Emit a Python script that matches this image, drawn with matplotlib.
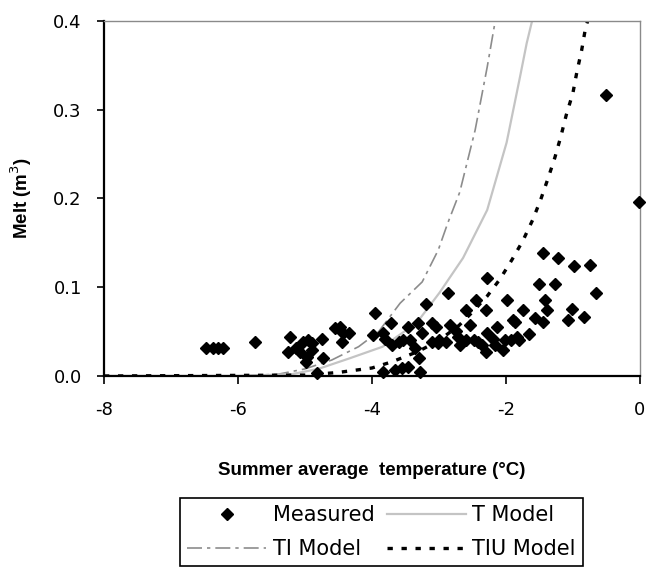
import matplotlib
matplotlib.use("Agg")
import matplotlib.pyplot as plt

plt.rcParams['font.family'] = ['DejaVu Sans']
plt.rcParams['axes.unicode_minus'] = False

# measured melt vs summer temperature
meas_t = [-6.47, -6.38, -6.30, -6.22, -5.74,
          -5.22, -5.25, -5.14, -5.07, -5.03, -4.95, -4.89, -4.97, -4.89, -4.98, -4.74, -4.73, -4.82,
          -4.55, -4.47, -4.43, -4.35, -4.44,
          -3.95, -3.98, -3.71, -3.83, -3.70, -3.80, -3.53, -3.46, -3.32, -3.25, -3.43, -3.35, -3.30,
          -3.20, -3.10, -3.05, -3.10, -3.01, -3.60, -3.00, -2.90,
          -2.87, -2.83, -2.75, -2.71, -2.68, -2.60, -2.53, -2.45, -2.48, -2.41, -2.60, -2.35,
          -2.30, -2.28, -2.28, -2.30, -2.20, -2.13, -2.16, -2.04, -1.98, -1.89, -1.93, -1.83,
          -3.83, -3.65, -3.55, -3.46, -3.28,
          -1.45, -1.23, -0.99, -0.75, -1.51, -1.27, -0.66, -1.41, -1.75, -1.38, -1.02,
          -1.87, -1.56, -1.45, -1.08, -0.84, -1.66, -1.81, -2.01,
          -0.51, -0.02]
meas_melt = [0.032, 0.032, 0.032, 0.032, 0.038,
             0.044, 0.027, 0.032, 0.027, 0.038, 0.040, 0.037, 0.021, 0.029, 0.016, 0.042, 0.020, 0.003,
             0.054, 0.055, 0.048, 0.048, 0.038,
             0.071, 0.046, 0.060, 0.049, 0.035, 0.042, 0.040, 0.055, 0.060, 0.049, 0.040, 0.031, 0.020,
             0.081, 0.060, 0.055, 0.038, 0.037, 0.038, 0.040, 0.038,
             0.093, 0.057, 0.051, 0.044, 0.035, 0.074, 0.057, 0.086, 0.040, 0.038, 0.040, 0.035,
             0.074, 0.110, 0.049, 0.027, 0.042, 0.055, 0.035, 0.029, 0.086, 0.063, 0.040, 0.044,
             0.004, 0.007, 0.009, 0.010, 0.004,
             0.139, 0.133, 0.124, 0.125, 0.104, 0.104, 0.093, 0.086, 0.074, 0.074, 0.075,
             0.061, 0.065, 0.061, 0.063, 0.067, 0.047, 0.041, 0.040,
             0.317, 0.196]

# model curves
t_model_t = [-8.0, -6.0, -5.2, -4.8, -4.33, -3.84, -3.33, -2.99, -2.64, -2.28, -1.99, -1.79, -1.69, -1.61]
t_model_melt = [0.0, 0.0, 0.002, 0.008, 0.020, 0.033, 0.060, 0.094, 0.133, 0.187, 0.263, 0.337, 0.375, 0.40]

ti_model_t = [-8.0, -6.0, -5.4, -5.0, -4.6, -4.2, -3.9, -3.58, -3.25, -3.01, -2.87, -2.69, -2.46, -2.28, -2.16]
ti_model_melt = [0.0, 0.0, 0.002, 0.008, 0.018, 0.033, 0.050, 0.082, 0.106, 0.142, 0.172, 0.207, 0.277, 0.348, 0.40]

tiu_model_t = [-8.0, -5.0, -4.5, -4.0, -3.7, -3.3, -3.0, -2.7, -2.5, -2.28, -2.09, -1.91, -1.75, -1.60,
               -1.48, -1.37, -1.27, -1.18, -1.10, -1.0, -0.94, -0.87, -0.81, -0.78]
tiu_model_melt = [0.0, 0.001, 0.004, 0.009, 0.016, 0.028, 0.040, 0.057, 0.072, 0.090, 0.109, 0.131, 0.152, 0.176,
                  0.199, 0.223, 0.246, 0.270, 0.294, 0.319, 0.343, 0.367, 0.393, 0.40]

fig = plt.figure(figsize=(6.56, 5.78), dpi=100)
ax = fig.add_axes([0.1585, 0.3495, 0.817, 0.6142])

ax.plot(meas_t, meas_melt, linestyle='none', marker='D', ms=6.5, color='black',
        label='Measured', clip_on=False, zorder=3)
ax.plot(ti_model_t, ti_model_melt, color='#8c8c8c', lw=1.2, linestyle=(0, (9, 3, 2, 3)),
        label='TI Model', zorder=2)
ax.plot(t_model_t, t_model_melt, color='#c4c4c4', lw=1.6, label='T Model', zorder=2)
ax.plot(tiu_model_t, tiu_model_melt, color='black', lw=2.4, linestyle=(0, (1.6, 2.6)),
        label='TIU Model', zorder=2)

ax.set_xlim(-8, 0)
ax.set_ylim(0, 0.4)
ax.set_xticks([-8, -6, -4, -2, 0])
ax.set_yticks([0.0, 0.1, 0.2, 0.3, 0.4])
ax.set_yticklabels(['0.0', '0.1', '0.2', '0.3', '0.4'])
ax.tick_params(axis='x', direction='out', length=6, width=1.2, pad=12, labelsize=13)
ax.tick_params(axis='y', direction='out', length=5, width=1.2, pad=11, labelsize=13)

for s in ['left', 'bottom']:
    ax.spines[s].set_linewidth(1.6)
    ax.spines[s].set_color('black')
for s in ['top', 'right']:
    ax.spines[s].set_linewidth(1.0)
    ax.spines[s].set_color('#8a8a8a')

ax.set_xlabel('Summer average  temperature (°C)', fontsize=13.5, fontweight='bold',
              family='Liberation Sans', labelpad=31)
ax.set_ylabel('Melt (m$^3$)', fontsize=13.5, fontweight='bold', family='Liberation Sans', labelpad=14)

leg = fig.legend(loc='upper right', bbox_to_anchor=(583 / 656, 1 - 498 / 578), ncol=2,
                 fontsize=15, handlelength=3.8, handletextpad=0.3, columnspacing=0.6,
                 labelspacing=0.65, borderpad=0.35, borderaxespad=0, fancybox=False, framealpha=1)
leg.get_frame().set_edgecolor('black')
leg.get_frame().set_linewidth(1.2)

fig.savefig('out.png', dpi=100)
